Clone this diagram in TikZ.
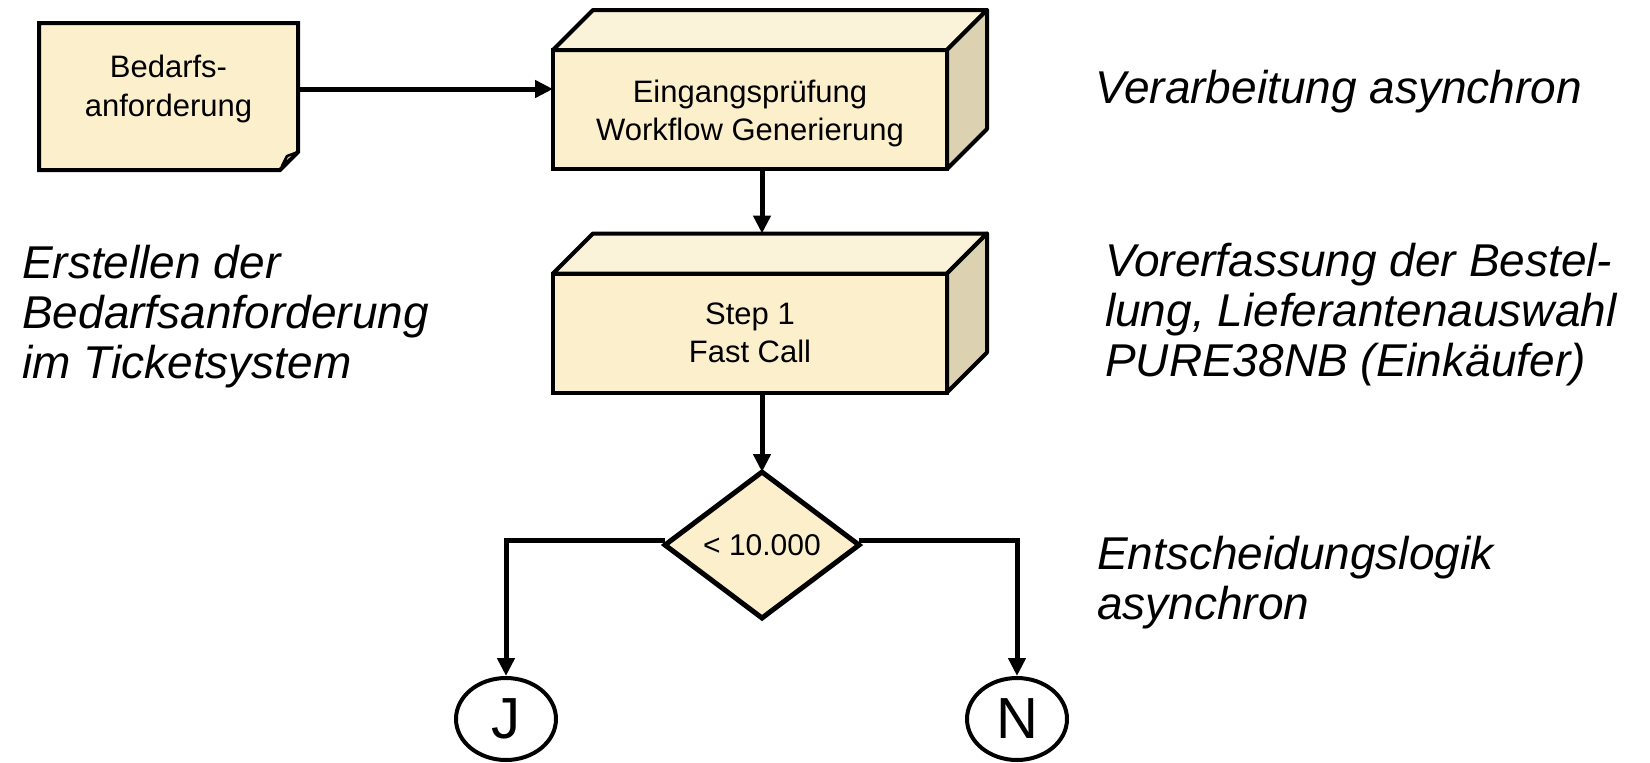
\documentclass[tikz,border=0pt]{standalone}
\usepackage{fontspec}
\setmainfont{Liberation Sans}
\usetikzlibrary{shapes.geometric,arrows.meta}
\definecolor{boxfront}{HTML}{FCEFCB}
\definecolor{boxtop}{HTML}{FBF3D9}
\definecolor{boxside}{HTML}{DCD2B1}
\tikzset{
  front/.style={draw,line width=4pt,fill=boxfront,minimum width=394pt,minimum height=119pt,inner sep=0pt,outer sep=0pt,align=center,font=\fontsize{31}{38}\selectfont},
  arr/.style={line width=5pt,-{Triangle[length=18pt,width=17pt]}},
  remark/.style={anchor=north west,align=left,inner sep=0pt,font=\fontsize{46}{50}\selectfont\itshape},
  endpt/.style={draw,ellipse,line width=4pt,minimum width=100pt,minimum height=82pt,inner sep=0pt,font=\fontsize{58}{58}\selectfont}
}
\begin{document}
\begin{tikzpicture}[x=1pt,y=-1pt]
	\useasboundingbox (0,0) rectangle (1650,763);
	%Shape: Document
	\filldraw[fill=boxfront,line width=4pt] (39,23) -- (298,23) -- (298,152) -- (280,170) -- (39,170) -- cycle ;
	\filldraw[fill=boxside,line width=2.5pt,line join=round] (298,152) -- (287,156) -- (282,166) -- cycle ;
	\node (doc) [inner sep=0pt,outer sep=0pt,minimum width=259pt,align=center,font=\fontsize{31}{39}\selectfont] at (168.5,89) {Bedarfs-\\anforderung};
	%Shape: Cube
	\node (eing) [front] at (750,109.5) {\rule{0pt}{30pt}Eingangsprüfung\\Workflow Generierung};
	\filldraw[fill=boxtop,line width=4pt,line join=round] (eing.north west) -- ++(40,-40) -- ([shift={(40,-40)}]eing.north east) -- (eing.north east) -- cycle ;
	\filldraw[fill=boxside,line width=4pt,line join=round] (eing.north east) -- ++(40,-40) -- ([shift={(40,-40)}]eing.south east) -- (eing.south east) -- cycle ;
	%Shape: Cube
	\node (step1) [front] at (750,333) {Step 1\\Fast Call};
	\filldraw[fill=boxtop,line width=4pt,line join=round] (step1.north west) -- ++(40,-40) -- ([shift={(40,-40)}]step1.north east) -- (step1.north east) -- cycle ;
	\filldraw[fill=boxside,line width=4pt,line join=round] (step1.north east) -- ++(40,-40) -- ([shift={(40,-40)}]step1.south east) -- (step1.south east) -- cycle ;
	%Shape: Diamond
	\node (dec) [diamond,draw,line width=5pt,fill=boxfront,minimum width=194pt,minimum height=146pt,inner sep=0pt,outer sep=0pt,font=\fontsize{30}{30}\selectfont] at (762,545) {< 10.000};
	%Shape: Ellipse
	\node (yes) [endpt] at (506,719) {J};
	\node (no) [endpt] at (1017,719) {N};
	%Straight Lines
	\draw[arr] (doc.east) -- (doc.east -| eing.west);
	\draw[arr] (dec.north |- eing.south) -- ([yshift=40pt]dec.north |- step1.north);
	\draw[arr] (dec.north |- step1.south) -- (dec.north);
	\draw[arr] ([yshift=5pt]dec.west) -| (yes.north);
	\draw[arr] ([yshift=5pt]dec.east) -| (no.north);
	%Text
	\node (rem1) [remark] at (1095,70) {Verarbeitung asynchron};
	\node (rem2) [remark] at (22,245) {Erstellen der\\Bedarfsanforderung\\im Ticketsystem};
	\node (rem3) [remark] at (1105,243) {Vorerfassung der Bestel-\\lung, Lieferantenauswahl\\PURE38NB (Einkäufer)};
	\node (rem4) [remark] at (1097,536) {Entscheidungslogik\\asynchron};
\end{tikzpicture}
\end{document}
